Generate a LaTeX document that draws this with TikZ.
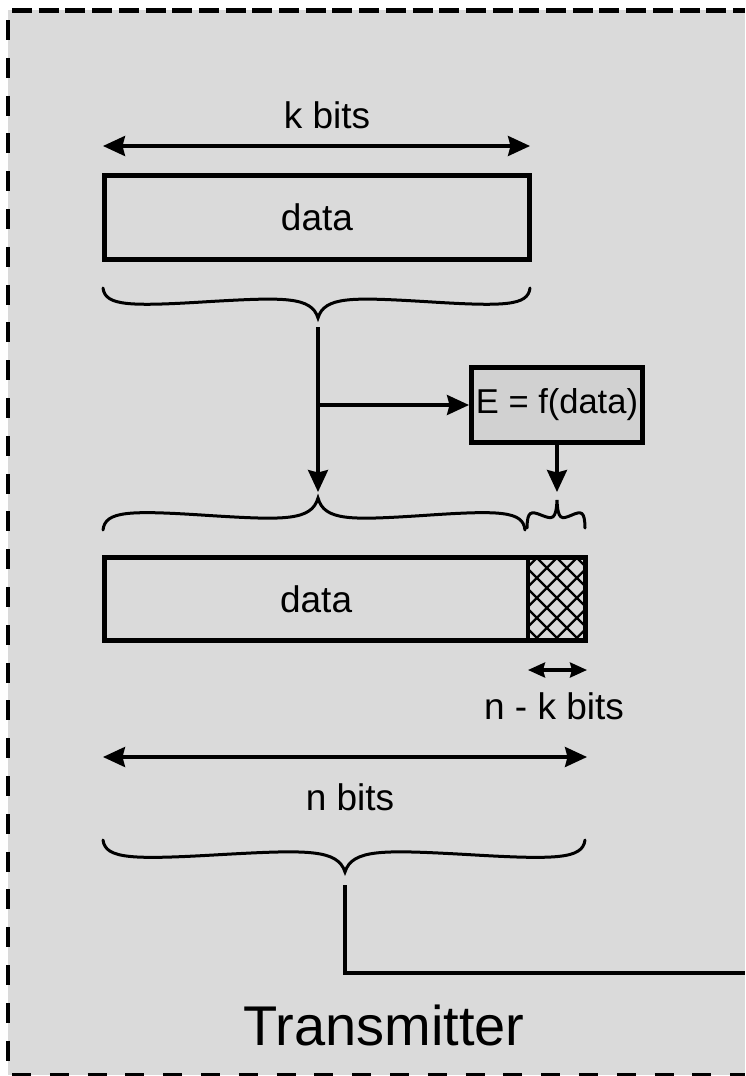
\documentclass[tikz,border=0pt]{standalone}
\usepackage{fontspec}
\setmainfont{Liberation Sans}
\usetikzlibrary{arrows.meta}

\definecolor{panel}{gray}{0.855}
\definecolor{fnfill}{gray}{0.82}

% curly brace: left end x, tip x, right end x, end y, tip y
\newcommand{\curlybrace}[5]{%
  \draw[bracestyle]
    (#1,#4)
      .. controls ({#1+0.01*(#2-#1)},{#4+0.6*(#5-#4)}) and ({#1+0.12*(#2-#1)},{#4+0.62*(#5-#4)})
      .. ({#1+0.5*(#2-#1)},{#4+0.45*(#5-#4)})
      .. controls ({#1+0.84*(#2-#1)},{#4+0.31*(#5-#4)}) and ({#2-0.03*(#2-#1)},{#4+0.28*(#5-#4)})
      .. (#2,#5)
      .. controls ({#2+0.03*(#3-#2)},{#4+0.28*(#5-#4)}) and ({#2+0.16*(#3-#2)},{#4+0.31*(#5-#4)})
      .. ({#2+0.5*(#3-#2)},{#4+0.45*(#5-#4)})
      .. controls ({#3-0.12*(#3-#2)},{#4+0.62*(#5-#4)}) and ({#3-0.01*(#3-#2)},{#4+0.6*(#5-#4)})
      .. (#3,#4);
}

\tikzset{
  frame/.style={line width=4.5pt, black},
  box/.style={draw=black, line width=4.8pt, inner sep=0pt,
    font=\fontsize{37}{40}\selectfont},
  fnbox/.style={draw=black, fill=fnfill, line width=5pt, inner sep=0pt,
    minimum width=171pt, minimum height=75pt,
    font=\fontsize{34.5}{38}\selectfont},
  lbl/.style={inner sep=0pt, font=\fontsize{37}{40}\selectfont},
  title/.style={inner sep=0pt, font=\fontsize{56}{60}\selectfont},
  bigtip/.tip={Stealth[length=22pt, width=20pt, inset=2.5pt]},
  smalltip/.tip={Stealth[length=17pt, width=15pt, inset=2pt]},
  flow/.style={line width=3.2pt, -bigtip},
  dim/.style={line width=3.2pt, bigtip-bigtip},
  smalldim/.style={line width=3.2pt, smalltip-smalltip},
  wire/.style={line width=3.2pt},
  bracestyle/.style={line width=3pt, line cap=round},
  hatch/.style={line width=2.2pt}
}

\begin{document}
\begin{tikzpicture}[x=1pt, y=-1pt]
\useasboundingbox (0,0) rectangle (745,1076);

% panel and its dashed outline
\fill[panel] (8,10) rectangle (745,1075);
\draw[frame, dash pattern=on 20pt off 6.7pt] (12,10.5) -- (745,10.5);
\draw[frame, dash pattern=on 20pt off 17.8pt] (8,20) -- (8,1076);
\draw[frame, dash pattern=on 19pt off 18.8pt] (12,1075.5) -- (745,1075.5);

% k data bits
\node[lbl] (kbits) at (327,115) {k bits};
\coordinate (kL) at (103,146);
\coordinate (kR) at (530,146);
\draw[dim] (kL) -- (kR);
\node[box, minimum width=425.5pt, minimum height=84.5pt] (data1) at (317,217.5) {data};

\curlybrace{103}{318}{530}{288}{318}

% data feeds the check function and the codeword
\coordinate (src) at (318,327);
\coordinate (split) at (318,405);
\coordinate (dst) at (318,492);
\node[fnbox] (fn) at (557,405) {E = f(data)};
\draw[flow] (src) -- (dst);
\draw[flow] (split) -- (fn.west);
\coordinate (pdst) at (557,492);
\draw[flow] (fn.south) -- (pdst);

\curlybrace{103}{318}{525}{530}{498}
\curlybrace{527}{557}{585}{528}{500}

% n-bit codeword: data followed by check bits
\node[box, minimum width=423.75pt, minimum height=83.5pt] (data2) at (316.1,599) {data};
\node[box, minimum width=57.75pt, minimum height=83.5pt,
  path picture={
    \foreach \k in {-6,...,5}{
      \draw[hatch] ([xshift=\k*20pt+6pt]path picture bounding box.south west) -- ++(130pt,130pt);
      \draw[hatch] ([xshift=-\k*20pt-6pt]path picture bounding box.south east) -- ++(-130pt,130pt);
    }
  }] (parity) at (556.9,599) {};

\coordinate (nkL) at (528,670);
\coordinate (nkR) at (587,670);
\draw[smalldim] (nkL) -- (nkR);
\node[lbl] (nkbits) at (554,706) {n - k bits};

\coordinate (nL) at (103,757);
\coordinate (nR) at (587,757);
\draw[dim] (nL) -- (nR);
\node[lbl] (nbits) at (350,797) {n bits};

\curlybrace{103}{345}{585}{840}{872}

% output line
\coordinate (txsrc) at (345,885);
\coordinate (txout) at (745,973);
\draw[wire] (txsrc) |- (txout);

\node[title] (tx) at (384,1025) {Transmitter};
\end{tikzpicture}
\end{document}
